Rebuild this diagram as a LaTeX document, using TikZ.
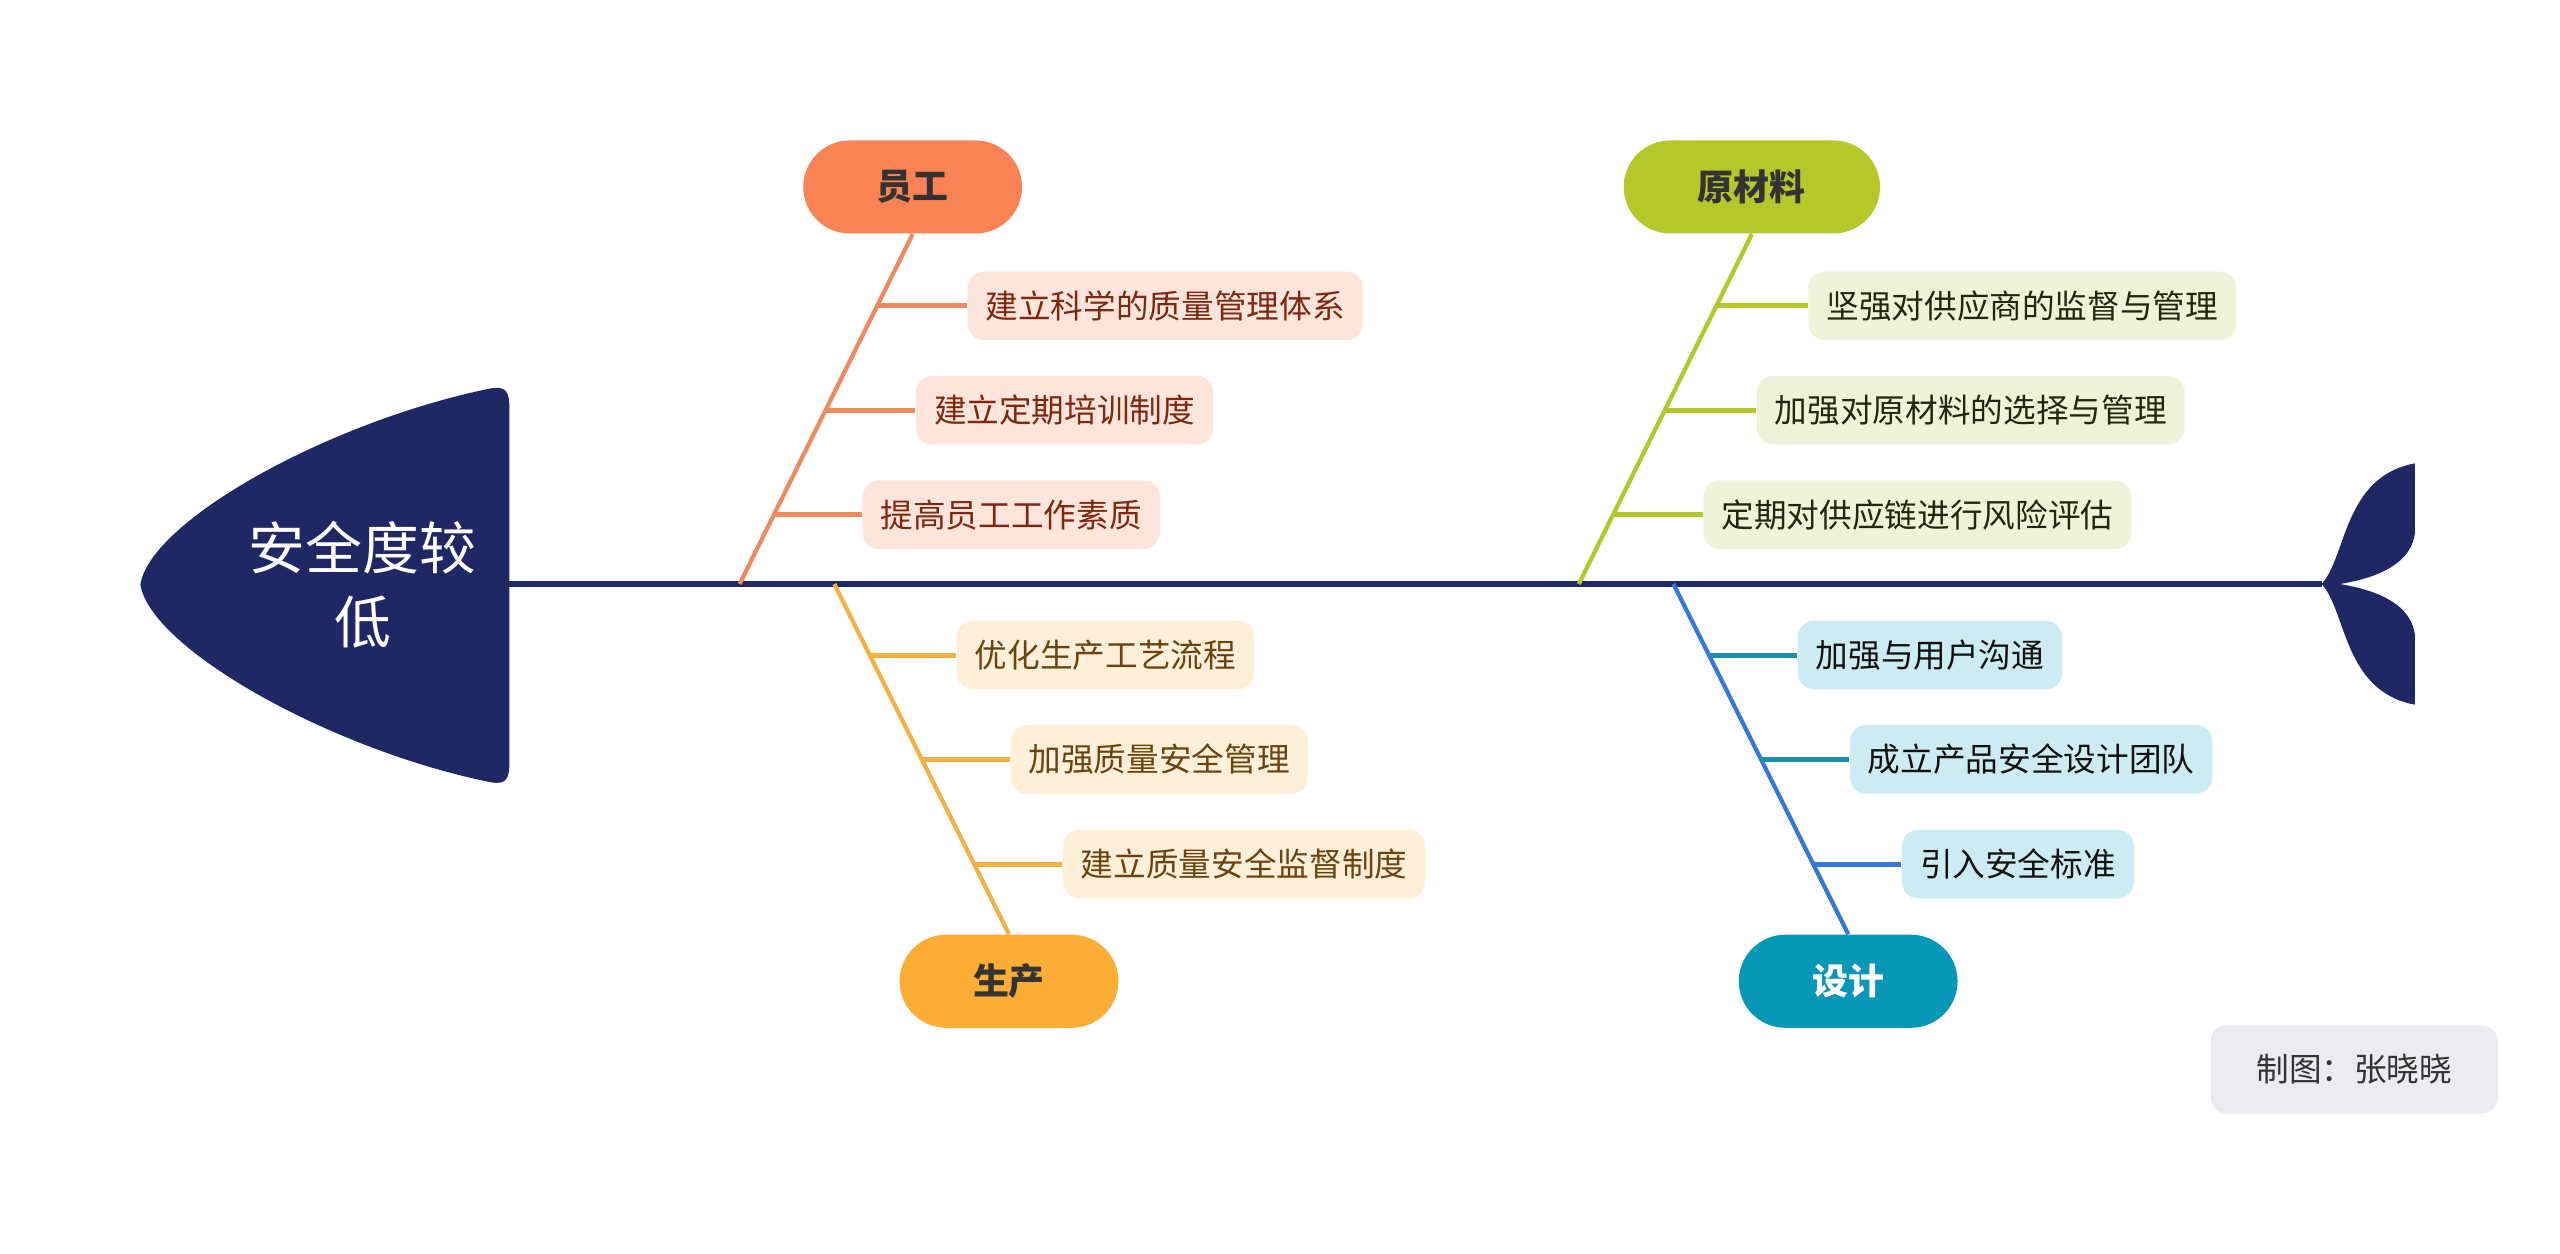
\documentclass[tikz,border=0pt]{standalone}
\usepackage{fontspec}
\newfontfamily\cjk{Noto Sans CJK SC}
\usetikzlibrary{calc}
\definecolor{navy}{HTML}{1F2865}
\definecolor{cOrange}{HTML}{FA8355}
\definecolor{lOrange}{HTML}{EE8A60}
\definecolor{bOrange}{HTML}{FDE5DB}
\definecolor{tOrange}{HTML}{7E2810}
\definecolor{cGreen}{HTML}{B4C82B}
\definecolor{bGreen}{HTML}{EEF3D9}
\definecolor{tGreen}{HTML}{25260F}
\definecolor{cYellow}{HTML}{FBAD36}
\definecolor{lYellow}{HTML}{F2B141}
\definecolor{bYellow}{HTML}{FEF0D8}
\definecolor{tYellow}{HTML}{6A4311}
\definecolor{cTeal}{HTML}{0797B7}
\definecolor{lBlue}{HTML}{3578D8}
\definecolor{lTeal}{HTML}{1A8FAA}
\definecolor{bTeal}{HTML}{CDEBF3}
\definecolor{tTeal}{HTML}{111111}
\definecolor{credit}{HTML}{ECEBEF}
\begin{document}
\begin{tikzpicture}[x=0.5pt,y=-0.5pt,
  pill/.style={rectangle,rounded corners=14.25pt,minimum height=28.5pt,
    minimum width=67pt,inner sep=0pt,font=\cjk\fontsize{11}{13}\selectfont\bfseries},
  sub/.style={rectangle,rounded corners=5pt,minimum height=21pt,inner xsep=5.5pt,
    inner ysep=0pt,anchor=west,font=\cjk\fontsize{10}{12}\selectfont},
  diag/.style={line width=1.3pt},
  hline/.style={line width=1.5pt}]
\useasboundingbox (0,0) rectangle (1568,768);
\fill[white] (0,0) rectangle (1568,768);
% head
\fill[navy] (86,358) .. controls (92,319) and (202,258) .. (300,238)
  .. controls (310,236) and (312,240) .. (312,250) -- (312,467)
  .. controls (312,477) and (310,481) .. (300,479)
  .. controls (202,459) and (92,397) .. (86,358) -- cycle;
\node[text=white,align=center,font=\cjk\fontsize{17.4}{22.5}\selectfont] (head) at (222,358) {安全度较\\低};
% tail
\coordinate (junc) at (1422,357.7);
\fill[navy] (junc) .. controls (1437.3,341) and (1435.3,291.9) .. (1479.1,283.8)
  -- (1479.1,326.7) .. controls (1476.1,349.1) and (1447.5,355.2) .. (1433.2,357.7)
  .. controls (1447.5,360.2) and (1476.1,366.3) .. (1479.1,388.7)
  -- (1479.1,431.6) .. controls (1435.3,423.5) and (1437.3,374.4) .. (junc) -- cycle;
% spine
\coordinate (sp0) at (312,357.7);
\draw[navy,line width=1.6pt] (sp0) -- (junc);
\coordinate (s1) at (453,357.7);
\coordinate (s2) at (967,357.7);
\coordinate (s3) at (511,357.7);
\coordinate (s4) at (1025,357.7);
% category nodes
\node[pill,fill=cOrange,text=black!80] (c1) at (559,114.5) {员工};
\node[pill,fill=cGreen,text=black!80,minimum width=78.5pt] (c2) at (1073,114.5) {原材料};
\node[pill,fill=cYellow,text=black!80] (c3) at (618,601) {生产};
\node[pill,fill=cTeal,text=white] (c4) at (1132,601) {设计};
% branches
\draw[diag,lOrange] (c1.south) -- (s1);
\draw[diag,cGreen] (c2.south) -- (s2);
\draw[diag,lYellow] (s3) -- (c3.north);
\draw[diag,lBlue] (s4) -- (c4.north);
% 员工 subs
\coordinate (e11) at ($(c1.south)!0.205!(s1)$);
\coordinate (e12) at ($(c1.south)!0.503!(s1)$);
\coordinate (e13) at ($(c1.south)!0.802!(s1)$);
\node[sub,fill=bOrange,text=tOrange] (b11) at ([xshift=27.5pt]e11) {建立科学的质量管理体系};
\node[sub,fill=bOrange,text=tOrange] (b12) at ([xshift=27.5pt]e12) {建立定期培训制度};
\node[sub,fill=bOrange,text=tOrange] (b13) at ([xshift=27pt]e13) {提高员工工作素质};
\draw[hline,lOrange] (e11) -- (b11.west);
\draw[hline,lOrange] (e12) -- (b12.west);
\draw[hline,lOrange] (e13) -- (b13.west);
% 原材料 subs
\coordinate (e21) at ($(c2.south)!0.205!(s2)$);
\coordinate (e22) at ($(c2.south)!0.503!(s2)$);
\coordinate (e23) at ($(c2.south)!0.802!(s2)$);
\node[sub,fill=bGreen,text=tGreen] (b21) at ([xshift=28pt]e21) {坚强对供应商的监督与管理};
\node[sub,fill=bGreen,text=tGreen] (b22) at ([xshift=28pt]e22) {加强对原材料的选择与管理};
\node[sub,fill=bGreen,text=tGreen] (b23) at ([xshift=27.5pt]e23) {定期对供应链进行风险评估};
\draw[hline,cGreen] (e21) -- (b21.west);
\draw[hline,cGreen] (e22) -- (b22.west);
\draw[hline,cGreen] (e23) -- (b23.west);
% 生产 subs
\coordinate (e31) at ($(s3)!0.203!(c3.north)$);
\coordinate (e32) at ($(s3)!0.501!(c3.north)$);
\coordinate (e33) at ($(s3)!0.8!(c3.north)$);
\node[sub,fill=bYellow,text=tYellow] (b31) at ([xshift=26.5pt]e31) {优化生产工艺流程};
\node[sub,fill=bYellow,text=tYellow] (b32) at ([xshift=27pt]e32) {加强质量安全管理};
\node[sub,fill=bYellow,text=tYellow] (b33) at ([xshift=27pt]e33) {建立质量安全监督制度};
\draw[hline,lYellow] (e31) -- (b31.west);
\draw[hline,lYellow] (e32) -- (b32.west);
\draw[hline,lYellow] (e33) -- (b33.west);
% 设计 subs
\coordinate (e41) at ($(s4)!0.203!(c4.north)$);
\coordinate (e42) at ($(s4)!0.501!(c4.north)$);
\coordinate (e43) at ($(s4)!0.8!(c4.north)$);
\node[sub,fill=bTeal,text=tTeal] (b41) at ([xshift=27pt]e41) {加强与用户沟通};
\node[sub,fill=bTeal,text=tTeal] (b42) at ([xshift=27pt]e42) {成立产品安全设计团队};
\node[sub,fill=bTeal,text=tTeal] (b43) at ([xshift=27pt]e43) {引入安全标准};
\draw[hline,lTeal] (e41) -- (b41.west);
\draw[hline,lTeal] (e42) -- (b42.west);
\draw[hline,lBlue] (e43) -- (b43.west);
% credit
\node[rectangle,rounded corners=5pt,fill=credit,minimum width=88pt,minimum height=27pt,
  text=black!80,font=\cjk\fontsize{10}{12}\selectfont] (cr) at (1442,655) {制图：张晓晓};
\end{tikzpicture}
\end{document}
